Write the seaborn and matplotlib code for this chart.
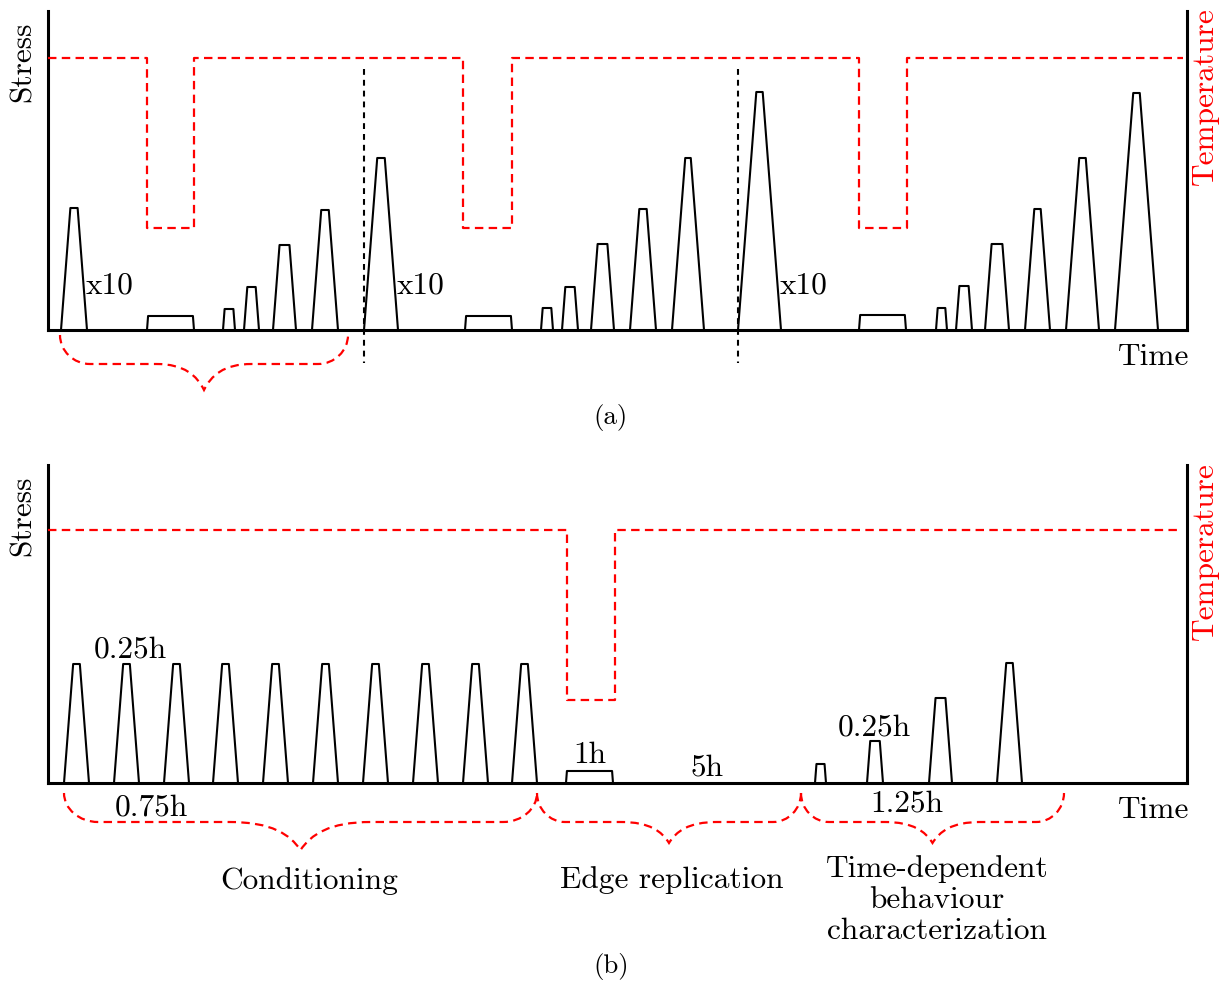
import numpy as np
import pandas as pd
import matplotlib
matplotlib.use("Agg")
import matplotlib.pyplot as plt
import seaborn as sns
from matplotlib.path import Path
from matplotlib.patches import PathPatch

# ---------------- data (schematic units: time, stress / temperature) ----------------
# Panel (a): stress trapezoids (base start, base end, peak level)
a_start = [13, 99, 175, 196, 225, 264, 316, 417, 493, 514, 543, 582, 624,
           690, 811, 888, 908, 937, 977, 1018, 1067]
a_end = [39, 146, 187, 211, 248, 290, 350, 464, 505, 530, 566, 608, 656,
         733, 858, 899, 924, 961, 1002, 1051, 1110]
a_level = [122, 14, 21, 43, 85, 120, 172, 14, 22, 43, 86, 121, 172,
           238, 15, 22, 44, 86, 121, 172, 237]
a_temp_time = [0, 99, 146, 415, 464, 811, 859, 1135]
a_temp_level = [272, 102, 272, 102, 272, 102, 272, 272]
a_separators = [316, 690]
a_x10_peaks = [0, 6, 13]

# Panel (b)
b_start = [16, 66, 116, 165, 215, 265, 315, 365, 415, 464, 518, 767, 819, 881, 949]
b_end = [41, 91, 141, 190, 240, 290, 340, 390, 440, 489, 565, 778, 835, 904, 974]
b_level = [119, 119, 119, 119, 119, 119, 119, 119, 119, 119, 12, 19, 42, 85, 120]
b_temp_time = [0, 519, 567, 1131]
b_temp_level = [253, 83, 253, 253]

LOAD_RATE = 13.0  # stress units per time unit

# ---------------- style ----------------
sns.set_theme(style="white")
plt.rcParams["font.family"] = ["cmr10", "DejaVu Serif"]
plt.rcParams["mathtext.fontset"] = "cm"
plt.rcParams["axes.unicode_minus"] = False
plt.rcParams["text.color"] = "black"
FS = 22.6
RED = "#ff0000"
RED_DASH = (0, (3.8, 2.4))
BLK_DASH = (0, (2.8, 2.4))

W, H = 1231, 984
fig = plt.figure(figsize=(W / 100, H / 100), dpi=100)


def px_axes(x0, y_top, x1, y_bot):
    return fig.add_axes([x0 / W, 1 - y_bot / H, (x1 - x0) / W, (y_bot - y_top) / H])


def trapezoid_frame(starts, ends, levels):
    rows = []
    for i, (s, e, lv) in enumerate(zip(starts, ends, levels)):
        r = lv / LOAD_RATE
        for t, v in [(s, 0), (s + r, lv), (e - r, lv), (e, 0)]:
            rows.append({"time": t, "stress": v, "cycle": i})
    return pd.DataFrame(rows)


def temp_frame(times, levels):
    return pd.DataFrame({"time": times, "temperature": levels})


def brace(ax, xa, xb, y_end, y_mid, y_tip, c=32):
    h = (xb - xa) / 2.0
    xm = xa + h
    d = max(48, 0.3 * h)
    k = 0.55
    dy = y_mid - y_end
    verts = [
        (xa, y_end),
        (xa, y_end + k * dy), (xa + (1 - k) * c, y_mid), (xa + c, y_mid),
        (xm - d, y_mid),
        (xm - 0.4 * d, y_mid), (xm - 0.15 * d, y_mid + 0.45 * (y_tip - y_mid)), (xm, y_tip),
        (xm + 0.15 * d, y_mid + 0.45 * (y_tip - y_mid)), (xm + 0.4 * d, y_mid), (xm + d, y_mid),
        (xb - c, y_mid),
        (xb - (1 - k) * c, y_mid), (xb, y_end + k * dy), (xb, y_end),
    ]
    codes = [Path.MOVETO,
             Path.CURVE4, Path.CURVE4, Path.CURVE4,
             Path.LINETO,
             Path.CURVE4, Path.CURVE4, Path.CURVE4,
             Path.CURVE4, Path.CURVE4, Path.CURVE4,
             Path.LINETO,
             Path.CURVE4, Path.CURVE4, Path.CURVE4]
    patch = PathPatch(Path(verts, codes), fill=False, edgecolor=RED, lw=1.6,
                      linestyle=RED_DASH, clip_on=False)
    ax.add_patch(patch)


def setup_axes(ax, ymax):
    ax.set_xlim(0, 1139)
    ax.set_ylim(0, ymax)
    ax.set_xticks([])
    ax.set_yticks([])
    ax.set_xlabel("")
    ax.set_ylabel("")
    for side in ["left", "bottom", "right"]:
        ax.spines[side].set_visible(True)
        ax.spines[side].set_color("black")
        ax.spines[side].set_linewidth(2.2)
    ax.spines["top"].set_visible(False)
    ax.patch.set_alpha(0)


def draw_panel(ax, starts, ends, levels, ttimes, tlevels, ymax):
    df = trapezoid_frame(starts, ends, levels)
    sns.lineplot(data=df, x="time", y="stress", units="cycle", estimator=None,
                 sort=False, color="black", lw=1.5, ax=ax, legend=False, clip_on=False)
    ax2 = ax.twinx()
    tf = temp_frame(ttimes, tlevels)
    sns.lineplot(data=tf, x="time", y="temperature", estimator=None, sort=False,
                 drawstyle="steps-post", color=RED, lw=1.6, linestyle=RED_DASH,
                 ax=ax2, legend=False)
    setup_axes(ax, ymax)
    setup_axes(ax2, ymax)
    for side in ["left", "bottom", "right"]:
        ax2.spines[side].set_visible(False)
    return ax2


# ---------------- panel (a) ----------------
axa = px_axes(48, 11, 1187, 330)
draw_panel(axa, a_start, a_end, a_level, a_temp_time, a_temp_level, 319)
for xs in a_separators:
    axa.plot([xs, xs], [261, -33], color="black", lw=1.5, linestyle=BLK_DASH, clip_on=False)
for i in a_x10_peaks:
    axa.text(a_end[i] - 1, 37, "x10", fontsize=FS, ha="left", va="baseline")
axa.text(-25, 268, "Stress", fontsize=FS, rotation=90, ha="center", va="center")
axa.text(1157, 234, "Temperature", fontsize=FS, rotation=90, ha="center", va="center", color=RED)
axa.text(1141, -35, "Time", fontsize=FS, ha="right", va="baseline")
brace(axa, 12, 300, -5, -34, -60, c=30)
axa.text(563, -87, "(a)", fontsize=FS * 0.86, ha="center", va="center")

# ---------------- panel (b) ----------------
axb = px_axes(48, 465, 1187, 783)
draw_panel(axb, b_start, b_end, b_level, b_temp_time, b_temp_level, 318)
axb.text(-25, 267, "Stress", fontsize=FS, rotation=90, ha="center", va="center")
axb.text(1157, 232, "Temperature", fontsize=FS, rotation=90, ha="center", va="center", color=RED)
axb.text(1141, -35, "Time", fontsize=FS, ha="right", va="baseline")

axb.text(46, 126, "0.25h", fontsize=FS, ha="left", va="baseline")
axb.text(67, -32, "0.75h", fontsize=FS, ha="left", va="baseline")
axb.text(542, 20, "1h", fontsize=FS, ha="center", va="baseline")
axb.text(659, 8, "5h", fontsize=FS, ha="center", va="baseline")
axb.text(790, 48, "0.25h", fontsize=FS, ha="left", va="baseline")
axb.text(822, -29, "1.25h", fontsize=FS, ha="left", va="baseline")

brace(axb, 16, 489, -10, -39, -67, c=34)
brace(axb, 489, 753, -10, -39, -60, c=28)
brace(axb, 753, 1016, -10, -39, -60, c=28)

axb.text(261, -106, "Conditioning", fontsize=FS, ha="center", va="baseline")
axb.text(624, -105, "Edge replication", fontsize=FS, ha="center", va="baseline")
axb.text(889, -94, "Time-dependent", fontsize=FS, ha="center", va="baseline")
axb.text(889, -125, "behaviour", fontsize=FS, ha="center", va="baseline")
axb.text(889, -156, "characterization", fontsize=FS, ha="center", va="baseline")
axb.text(563, -183, "(b)", fontsize=FS * 0.86, ha="center", va="center")

fig.savefig("out.png", dpi=100)
